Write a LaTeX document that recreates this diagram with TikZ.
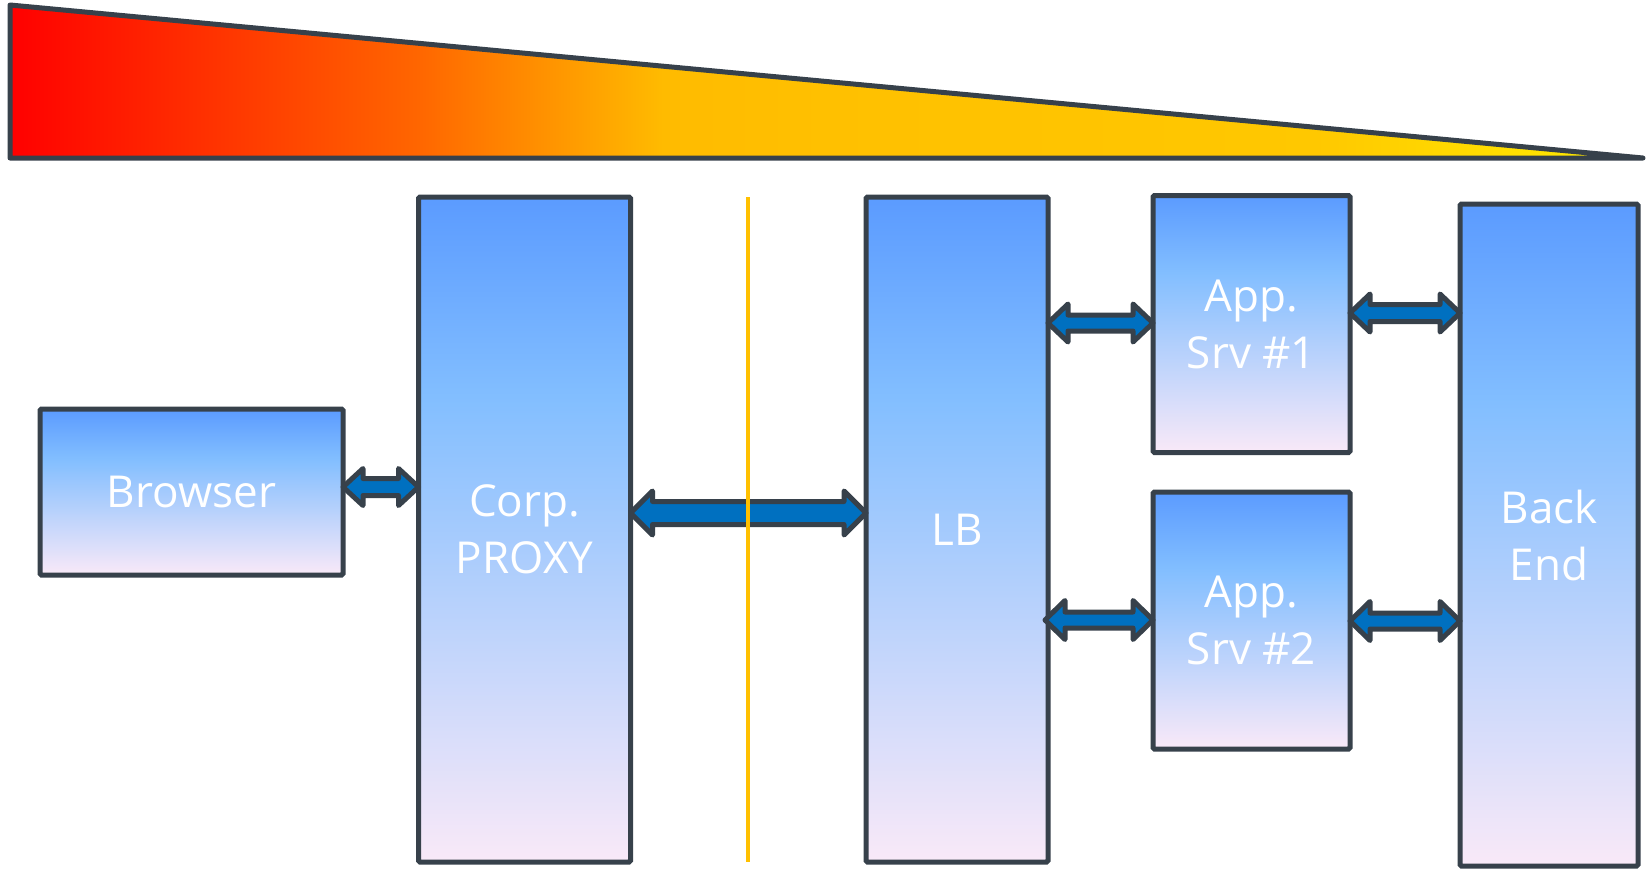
\documentclass[tikz,border=0pt]{standalone}
\usepackage{fontspec}
\setmainfont{Open Sans}
\usetikzlibrary{calc}
\definecolor{bordercol}{HTML}{37414B}
\definecolor{arrfill}{HTML}{0070C0}
\definecolor{topb}{HTML}{5B9BFF}
\definecolor{midb}{HTML}{82BEFF}
\definecolor{pinkb}{HTML}{F9E9F8}
\definecolor{orangeline}{HTML}{FFC000}
\definecolor{w1}{HTML}{FF0000}
\definecolor{w2}{HTML}{FF6600}
\definecolor{w3}{HTML}{FFBB00}
\definecolor{w4}{HTML}{FFC000}
\definecolor{w5}{HTML}{FFC800}
\definecolor{w6}{HTML}{FFEE00}
\pgfdeclareverticalshading{boxshade}{100bp}{color(0bp)=(pinkb); color(25bp)=(pinkb); color(60bp)=(midb); color(75bp)=(topb); color(100bp)=(topb)}
\pgfdeclarehorizontalshading{wedgeshade}{100bp}{color(0bp)=(w1); color(25bp)=(w1); color(37.5bp)=(w2); color(45bp)=(w3); color(50bp)=(w4); color(65bp)=(w5); color(75bp)=(w6); color(100bp)=(w6)}
\newcommand\blockarr[5]{%
  \draw[arrstyle] (#1) -- ($(#1)+(#5,-#4)$) -- ($(#1)+(#5,-#3)$) -- ($(#2)+(-#5,-#3)$) -- ($(#2)+(-#5,-#4)$) -- (#2) -- ($(#2)+(-#5,#4)$) -- ($(#2)+(-#5,#3)$) -- ($(#1)+(#5,#3)$) -- ($(#1)+(#5,#4)$) -- cycle;}
\begin{document}
\begin{tikzpicture}[x=1pt,y=-1pt,
  box/.style={draw=bordercol, line width=5pt, shade, shading=boxshade, rounded corners=1.5pt,
    inner sep=0pt, outer sep=0pt, text=white, align=center, font=\fontsize{44}{57}\selectfont},
  arrstyle/.style={draw=bordercol, fill=arrfill, line width=5pt, line join=round}]
\useasboundingbox (0,0) rectangle (1648,868);
% wedge
\path[shade, shading=wedgeshade] (10,5) -- (1643,158) -- (10,158) -- cycle;
\draw[bordercol, line width=5pt, line join=round, line cap=round] (10,5) -- (1643,158) -- (10,158) -- cycle;
% boxes
\node[box, minimum width=303pt, minimum height=166pt] (browser) at (191.5,492) {Browser};
\node[box, minimum width=212pt, minimum height=665pt] (proxy) at (524.5,529.5) {Corp.\\PROXY};
\node[box, minimum width=182pt, minimum height=665pt] (lb) at (957,529.5) {LB};
\node[box, minimum width=197pt, minimum height=257pt] (app1) at (1251.5,324) {App.\\Srv \#1};
\node[box, minimum width=197pt, minimum height=257pt] (app2) at (1251.5,620.5) {App.\\Srv \#2};
\node[box, minimum width=178pt, minimum height=662pt] (be) at (1549,535) {Back\\End};
% arrows
\coordinate (a1s) at (browser.east |- 0,487);
\coordinate (a1e) at (proxy.west |- 0,487);
\coordinate (a2s) at (proxy.east |- 0,513);
\coordinate (a2e) at (lb.west |- 0,513);
\coordinate (a3s) at (lb.east |- 0,323);
\coordinate (a3e) at (app1.west |- 0,323);
\coordinate (a4s) at (app1.east |- 0,313);
\coordinate (a4e) at (be.west |- 0,313);
\coordinate (a5s) at ($(lb.east |- 0,620)+(-3,0)$);
\coordinate (a5e) at (app2.west |- 0,620);
\coordinate (a6s) at (app2.east |- 0,621);
\coordinate (a6e) at (be.west |- 0,621);
\blockarr{a1s}{a1e}{8.5}{18.5}{20}
\blockarr{a2s}{a2e}{11.5}{22}{22}
\blockarr{a3s}{a3e}{8}{19}{20}
\blockarr{a4s}{a4e}{8.5}{19}{20}
\blockarr{a5s}{a5e}{8}{19.5}{20}
\blockarr{a6s}{a6e}{8}{19.5}{20}
% orange line (drawn over the arrow)
\coordinate (ol1) at (748,197);
\coordinate (ol2) at (748,862);
\draw[orangeline, line width=4.5pt] (ol1) -- (ol2);
\end{tikzpicture}
\end{document}
